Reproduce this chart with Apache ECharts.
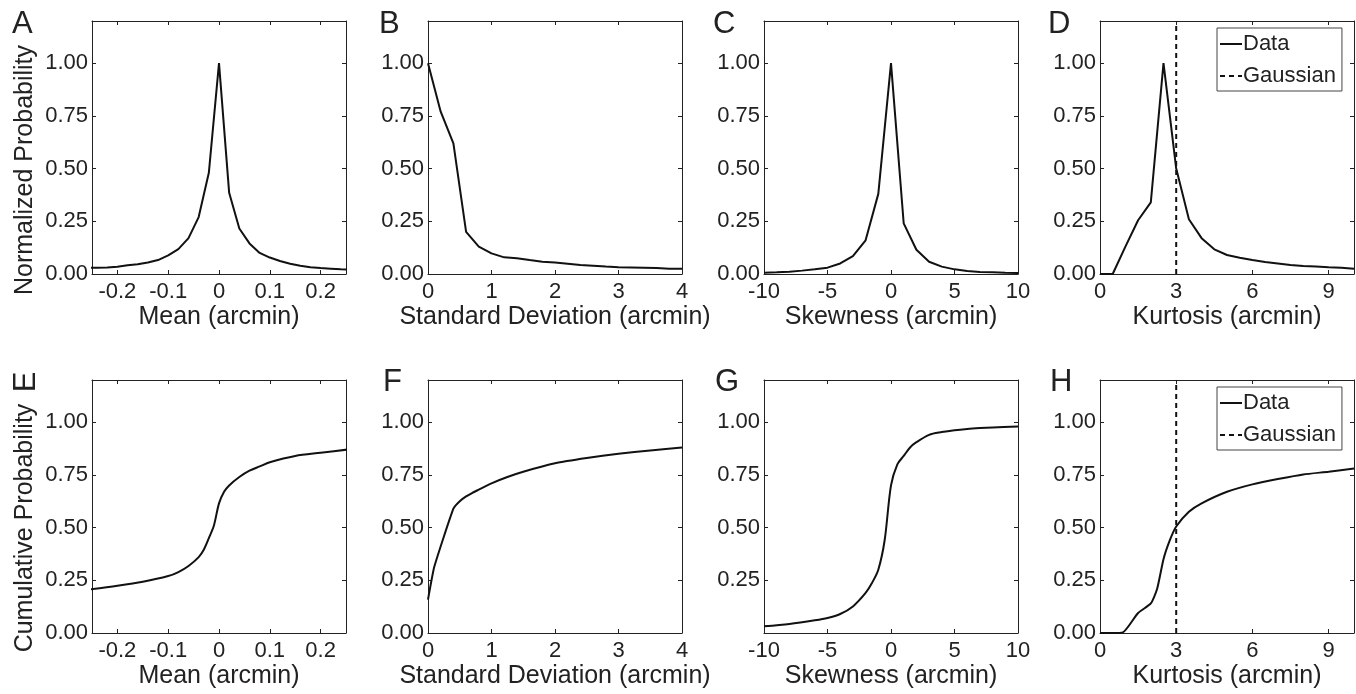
<!DOCTYPE html>
<html>
<head>
<meta charset="utf-8">
<title>Distribution of fixation statistics</title>
<script src="https://cdn.jsdelivr.net/npm/echarts@6/dist/echarts.min.js"></script>
<style>
html, body { margin: 0; padding: 0; background: #fff; }
#chart { width: 1356px; height: 694px; }
</style>
</head>
<body>
<div id="chart"></div>
<script>
// ---- data ----
// A: mean, normalized probability
const meanX = [-0.26, -0.24, -0.22, -0.2, -0.18, -0.16, -0.14, -0.12, -0.1, -0.08, -0.06, -0.04, -0.02, 0,
  0.02, 0.04, 0.06, 0.08, 0.1, 0.12, 0.14, 0.16, 0.18, 0.2, 0.22, 0.24, 0.26];
const meanPdf = [0.03, 0.03, 0.031, 0.034, 0.042, 0.046, 0.055, 0.066, 0.088, 0.118, 0.17, 0.27, 0.48, 1.0,
  0.385, 0.216, 0.145, 0.1, 0.078, 0.062, 0.049, 0.039, 0.032, 0.028, 0.025, 0.022, 0.02];

// B: standard deviation, normalized probability
const sdX = [0, 0.2, 0.4, 0.6, 0.8, 1.0, 1.2, 1.4, 1.6, 1.8, 2.0, 2.2, 2.4, 2.6, 2.8, 3.0, 3.2, 3.4, 3.6, 3.8, 4.0];
const sdPdf = [1.0, 0.77, 0.62, 0.2, 0.13, 0.098, 0.079, 0.075, 0.066, 0.058, 0.054, 0.049, 0.043, 0.039, 0.035,
  0.032, 0.031, 0.03, 0.028, 0.025, 0.025];

// C: skewness, normalized probability
const skewX = [-10, -9, -8, -7, -6, -5, -4, -3, -2, -1, 0, 1, 2, 3, 4, 5, 6, 7, 8, 9, 10];
const skewPdf = [0.006, 0.008, 0.011, 0.016, 0.022, 0.03, 0.05, 0.085, 0.16, 0.38, 1.0, 0.24, 0.115, 0.058,
  0.035, 0.022, 0.014, 0.009, 0.008, 0.006, 0.005];

// D: kurtosis, normalized probability
const kurtX = [0, 0.5, 1, 1.5, 2, 2.5, 3, 3.5, 4, 4.5, 5, 5.5, 6, 6.5, 7, 7.5, 8, 8.5, 9, 9.5, 10];
const kurtPdf = [0, 0, 0.13, 0.255, 0.34, 1.0, 0.5, 0.26, 0.17, 0.117, 0.09, 0.077, 0.066, 0.057, 0.05, 0.043,
  0.038, 0.035, 0.032, 0.03, 0.025];

// E: mean, cumulative
const meanCdfX = [-0.26, -0.2, -0.15, -0.1, -0.08, -0.06, -0.04, -0.03, -0.02, -0.01, 0, 0.01, 0.02, 0.04,
  0.06, 0.08, 0.1, 0.15, 0.2, 0.26];
const meanCdf = [0.205, 0.224, 0.243, 0.27, 0.289, 0.318, 0.36, 0.395, 0.45, 0.51, 0.615, 0.67, 0.7, 0.74,
  0.77, 0.79, 0.81, 0.84, 0.855, 0.872];

// F: standard deviation, cumulative
const sdCdfX = [0, 0.1, 0.4, 0.5, 0.6, 0.7, 0.8, 1.0, 1.25, 1.5, 2.0, 2.5, 3.0, 3.5, 4.0];
const sdCdf = [0.158, 0.315, 0.59, 0.625, 0.648, 0.665, 0.68, 0.71, 0.74, 0.765, 0.805, 0.83, 0.85, 0.866, 0.88];

// G: skewness, cumulative
const skewCdfX = [-10, -8, -6, -5, -4, -3, -2, -1.5, -1, -0.5, 0, 0.5, 1, 1.5, 2, 3, 4, 5, 6, 7, 8, 10];
const skewCdf = [0.032, 0.043, 0.06, 0.071, 0.09, 0.126, 0.19, 0.237, 0.3, 0.44, 0.7, 0.8, 0.84, 0.88, 0.905,
  0.94, 0.953, 0.962, 0.968, 0.972, 0.975, 0.98];

// H: kurtosis, cumulative
const kurtCdfX = [0, 0.5, 0.9, 1.5, 2.0, 2.25, 2.5, 2.75, 3.0, 3.5, 4, 5, 6, 7, 8, 9, 10];
const kurtCdf = [0, 0, 0.003, 0.095, 0.14, 0.21, 0.35, 0.44, 0.505, 0.575, 0.615, 0.67, 0.705, 0.73, 0.752,
  0.765, 0.78];

// gaussian reference kurtosis
const gaussianKurtosis = 3;

// tick labels
const meanTicks = [-0.2, -0.1, 0, 0.1, 0.2];
const sdTicks = [0, 1, 2, 3, 4];
const skewTicks = [-10, -5, 0, 5, 10];
const kurtTicks = [0, 3, 6, 9];
const probTicks = [0, 0.25, 0.5, 0.75, 1];
const probTicksNoZero = [0.25, 0.5, 0.75, 1];

// ---- layout ----
const FONT = '"Liberation Sans", Arial, Helvetica, sans-serif';
const INK = '#222';
const LINE = '#111';
const colLeft = [92, 428, 764, 1100];
const rowTop = [21, 380];
const plotW = 254;
const plotH = 253;
const yMax = 1.2;

const panels = [
  { letter: 'A', x: meanX, y: meanPdf, xr: [-0.25, 0.25], xt: meanTicks, yl: probTicks, xName: 'Mean (arcmin)' },
  { letter: 'B', x: sdX, y: sdPdf, xr: [0, 4], xt: sdTicks, yl: probTicks, xName: 'Standard Deviation (arcmin)' },
  { letter: 'C', x: skewX, y: skewPdf, xr: [-10, 10], xt: skewTicks, yl: probTicks, xName: 'Skewness (arcmin)' },
  { letter: 'D', x: kurtX, y: kurtPdf, xr: [0, 10], xt: kurtTicks, yl: probTicks, xName: 'Kurtosis (arcmin)', gauss: true },
  { letter: 'E', x: meanCdfX, y: meanCdf, xr: [-0.25, 0.25], xt: meanTicks, yl: probTicks, xName: 'Mean (arcmin)', smooth: 0.3 },
  { letter: 'F', x: sdCdfX, y: sdCdf, xr: [0, 4], xt: sdTicks, yl: probTicks, xName: 'Standard Deviation (arcmin)', smooth: 0.15 },
  { letter: 'G', x: skewCdfX, y: skewCdf, xr: [-10, 10], xt: skewTicks, yl: probTicksNoZero, xName: 'Skewness (arcmin)', smooth: 0.3 },
  { letter: 'H', x: kurtCdfX, y: kurtCdf, xr: [0, 10], xt: kurtTicks, yl: probTicks, xName: 'Kurtosis (arcmin)', smooth: 0.2, gauss: true },
];

const grids = [];
const xAxes = [];
const yAxes = [];
const series = [];
const legends = [];

function tickStyle(values) {
  return { show: true, inside: true, length: 4, customValues: values, lineStyle: { color: INK, width: 1 } };
}

panels.forEach((p, i) => {
  const col = i % 4;
  const row = Math.floor(i / 4);
  grids.push({ left: colLeft[col], top: rowTop[row], width: plotW, height: plotH, containLabel: false });

  const axisLine = { show: true, onZero: false, lineStyle: { color: INK, width: 1 } };
  // bottom x axis with labels
  xAxes.push({
    gridIndex: i, type: 'value', position: 'bottom', min: p.xr[0], max: p.xr[1],
    axisLine: axisLine,
    axisTick: tickStyle(p.xt),
    axisLabel: { customValues: p.xt, color: INK, fontSize: 22, fontFamily: FONT, margin: 7 },
    splitLine: { show: false },
    name: p.xName, nameLocation: 'middle', nameGap: 31,
    nameTextStyle: { color: INK, fontSize: 25, fontFamily: FONT },
  });
  // top x axis, ticks only
  xAxes.push({
    gridIndex: i, type: 'value', position: 'top', min: p.xr[0], max: p.xr[1],
    axisLine: axisLine, axisTick: tickStyle(p.xt), axisLabel: { show: false }, splitLine: { show: false },
  });
  yAxes.push({
    gridIndex: i, type: 'value', position: 'left', min: 0, max: yMax,
    axisLine: axisLine,
    axisTick: tickStyle(probTicks),
    axisLabel: {
      customValues: p.yl, color: INK, fontSize: 22, fontFamily: FONT, margin: 4,
      formatter: (v) => v.toFixed(2),
    },
    splitLine: { show: false },
  });
  yAxes.push({
    gridIndex: i, type: 'value', position: 'right', min: 0, max: yMax,
    axisLine: axisLine, axisTick: tickStyle(probTicks), axisLabel: { show: false }, splitLine: { show: false },
  });

  series.push({
    name: p.gauss ? 'Data' : 'panel ' + p.letter,
    type: 'line', xAxisIndex: 2 * i, yAxisIndex: 2 * i,
    data: p.x.map((v, k) => [v, p.y[k]]),
    symbol: 'none', showSymbol: false,
    smooth: p.smooth || false,
    lineStyle: { color: LINE, width: 2 },
    itemStyle: { color: LINE },
    clip: true,
  });

  if (p.gauss) {
    series.push({
      name: 'Gaussian',
      type: 'line', xAxisIndex: 2 * i, yAxisIndex: 2 * i,
      data: [[gaussianKurtosis, 0], [gaussianKurtosis, yMax]],
      symbol: 'none', showSymbol: false,
      lineStyle: { color: LINE, width: 2, type: [5, 4] },
      itemStyle: { color: LINE },
    });
    legends.push({
      left: 1217, top: rowTop[row] + 7, orient: 'vertical',
      data: ['Data', 'Gaussian'],
      selectedMode: false,
      backgroundColor: '#fff', borderColor: '#444', borderWidth: 1, borderRadius: 0,
      padding: [4, 6, 3, 2],
      itemWidth: 22, itemHeight: 14, itemGap: 8,
      itemStyle: { opacity: 0 },
      lineStyle: { width: 2 },
      textStyle: { color: INK, fontSize: 22, fontFamily: FONT, lineHeight: 24, padding: [0, 0, 0, -4] },
    });
  }
});

// panel letters and y axis titles
const letterPos = [[12, 24], [379, 24], [713, 24], [1048, 24], [26, 382], [383, 382], [715, 382], [1050, 382]];
const graphics = panels.map((p, i) => {
  const el = {
    type: 'text', x: letterPos[i][0], y: letterPos[i][1],
    style: { text: p.letter, font: '31px ' + FONT, fill: INK, textVerticalAlign: 'middle' },
  };
  if (p.letter === 'E') {
    // this one is rotated in the source figure
    el.rotation = Math.PI / 2;
    el.style.textAlign = 'center';
  }
  return el;
});
graphics.push({
  type: 'text', x: 25, y: 170, rotation: Math.PI / 2,
  style: { text: 'Normalized Probability', font: '25px ' + FONT, fill: INK, textAlign: 'center', textVerticalAlign: 'middle' },
});
graphics.push({
  type: 'text', x: 25, y: 528, rotation: Math.PI / 2,
  style: { text: 'Cumulative Probability', font: '25px ' + FONT, fill: INK, textAlign: 'center', textVerticalAlign: 'middle' },
});

const myChart = echarts.init(document.getElementById('chart'));
myChart.setOption({
  animation: false,
  backgroundColor: '#fff',
  grid: grids,
  xAxis: xAxes,
  yAxis: yAxes,
  series: series,
  legend: legends,
  graphic: graphics,
});
</script>
</body>
</html>
